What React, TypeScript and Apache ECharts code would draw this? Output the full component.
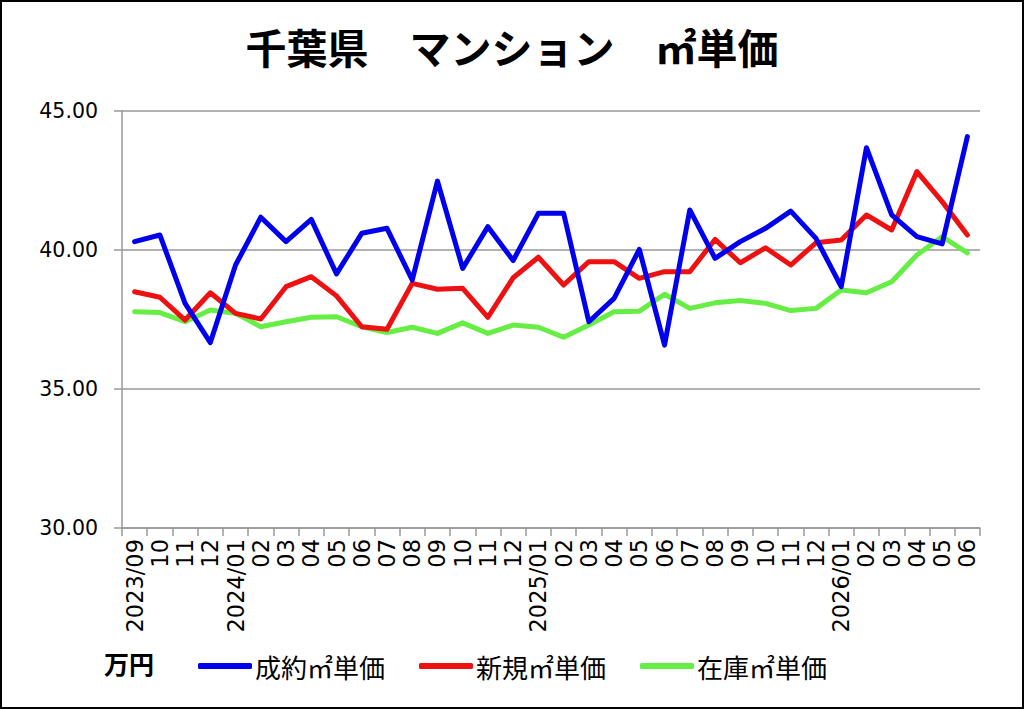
import React, { useEffect, useRef } from "react";
import * as echarts from "echarts";

const categories = [
  "2023/09", "10", "11", "12",
  "2024/01", "02", "03", "04", "05", "06", "07", "08", "09", "10", "11", "12",
  "2025/01", "02", "03", "04", "05", "06", "07", "08", "09", "10", "11", "12",
  "2026/01", "02", "03", "04", "05", "06",
];

const seiyaku = [
  40.30, 40.54, 38.08, 36.67, 39.46, 41.18, 40.30, 41.10, 39.14, 40.60, 40.78, 38.92,
  42.48, 39.34, 40.84, 39.62, 41.32, 41.32, 37.42, 38.26, 40.02, 36.58, 41.44, 39.70,
  40.30, 40.78, 41.40, 40.42, 38.68, 43.68, 41.26, 40.48, 40.22, 44.08,
];

const shinki = [
  38.50, 38.30, 37.48, 38.46, 37.72, 37.52, 38.68, 39.04, 38.35, 37.24, 37.15, 38.80,
  38.59, 38.62, 37.58, 39.00, 39.74, 38.74, 39.58, 39.58, 38.98, 39.22, 39.22, 40.38,
  39.54, 40.08, 39.46, 40.26, 40.36, 41.26, 40.72, 42.82, 41.74, 40.54,
];

const zaiko = [
  37.78, 37.75, 37.42, 37.84, 37.72, 37.24, 37.42, 37.58, 37.60, 37.24, 37.03, 37.22,
  37.00, 37.38, 37.00, 37.30, 37.22, 36.86, 37.30, 37.78, 37.80, 38.41, 37.90, 38.10,
  38.18, 38.08, 37.82, 37.90, 38.56, 38.46, 38.86, 39.82, 40.48, 39.90,
];

const seriesNames = ["成約㎡単価", "新規㎡単価", "在庫㎡単価"];
const seriesColors = ["#0000ee", "#ee1111", "#66ee44"];

const JP = '"Noto Sans CJK JP", "Noto Sans", sans-serif';
const NUM = '"DejaVu Sans", Verdana, sans-serif';

export default function App() {
  const ref = useRef<HTMLDivElement>(null);

  useEffect(() => {
    if (!ref.current) return;
    const chart = echarts.init(ref.current, null, { renderer: "svg" });
    const datas = [seiyaku, shinki, zaiko];
    chart.setOption({
      animation: false,
      backgroundColor: "#ffffff",
      title: {
        text: "千葉県　マンション　㎡単価",
        left: "center",
        top: 20,
        textStyle: { fontFamily: JP, fontSize: 41, fontWeight: "bold", color: "#000" },
      },
      grid: { left: 122, right: 44, top: 111, bottom: 181, containLabel: false },
      legend: {
        left: 193,
        top: 648,
        icon: "roundRect",
        itemWidth: 54,
        itemHeight: 6,
        itemGap: 34,
        data: seriesNames,
        textStyle: { fontFamily: JP, fontSize: 26, color: "#000", padding: [0, 0, 0, -2] },
      },
      graphic: [
        {
          type: "rect",
          shape: { x: 1, y: 1, width: 1022, height: 707 },
          style: { fill: "none", stroke: "#000", lineWidth: 2 },
        },
        {
          type: "text",
          left: 104,
          top: 650,
          style: { text: "万円", font: `bold 25px ${JP}`, fill: "#000" },
        },
      ],
      xAxis: {
        type: "category",
        data: categories,
        boundaryGap: true,
        axisLine: { lineStyle: { color: "#999", width: 1.5 } },
        axisTick: { show: true, length: 8, lineStyle: { color: "#999", width: 1.5 } },
        axisLabel: {
          interval: 0,
          rotate: 90,
          margin: 11,
          fontFamily: NUM,
          fontSize: 22.5,
          color: "#000",
        },
        splitLine: { show: false },
      },
      yAxis: {
        type: "value",
        min: 30,
        max: 45,
        interval: 5,
        axisLine: { show: true, lineStyle: { color: "#999", width: 1.5 } },
        axisTick: { show: true, length: 8, lineStyle: { color: "#999", width: 1.5 } },
        axisLabel: {
          margin: 24,
          fontFamily: NUM,
          fontSize: 20.5,
          color: "#000",
          formatter: (v: number) => v.toFixed(2),
        },
        splitLine: { show: true, lineStyle: { color: "#999", width: 1.5 } },
      },
      series: datas.map((d, i) => ({
        name: seriesNames[i],
        type: "line",
        data: d,
        symbol: "none",
        z: 3 - i,
        lineStyle: { color: seriesColors[i], width: 5, join: "round", cap: "round" },
        itemStyle: { color: seriesColors[i] },
      })),
    });
    return () => chart.dispose();
  }, []);

  return (
    <div
      ref={ref}
      style={{ position: "absolute", left: 0, top: 0, width: 1024, height: 709 }}
    />
  );
}
